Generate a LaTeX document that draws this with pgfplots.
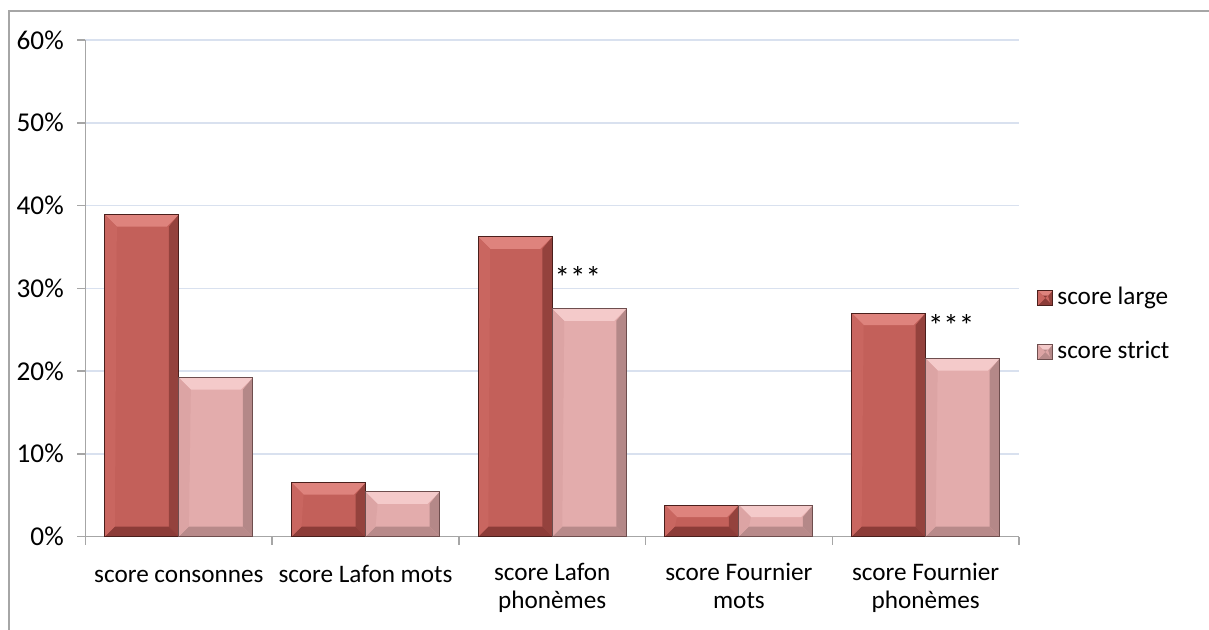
\documentclass[border=0pt]{standalone}
\usepackage{fontspec}
\setmainfont{Carlito}
\usepackage{pgfplots}
\pgfplotsset{compat=1.18}
\definecolor{large}{HTML}{C3605A}
\definecolor{largeedge}{HTML}{4A1F1C}
\definecolor{largetop}{HTML}{DE837D}
\definecolor{largeright}{HTML}{94423D}
\definecolor{largebottom}{HTML}{8C3C38}
\definecolor{largeleft}{HTML}{C96660}
\definecolor{strictc}{HTML}{E3ACAC}
\definecolor{strictedge}{HTML}{6E4E4E}
\definecolor{stricttop}{HTML}{F4CACA}
\definecolor{strictright}{HTML}{B48888}
\definecolor{strictbottom}{HTML}{B88A8A}
\definecolor{strictleft}{HTML}{DCA4A4}
\definecolor{gridc}{HTML}{D9E1EF}
\definecolor{axc}{HTML}{A6A6A6}
\tikzset{bevel/.style n args={4}{path picture={
  \fill[#1, path picture={}, draw=none] (path picture bounding box.north west) -- (path picture bounding box.north east) -- ([shift={(-6pt,-6pt)}]path picture bounding box.north east) -- ([shift={(6pt,-6pt)}]path picture bounding box.north west) -- cycle;
  \fill[#2, path picture={}, draw=none] (path picture bounding box.north east) -- (path picture bounding box.south east) -- ([shift={(-5pt,5pt)}]path picture bounding box.south east) -- ([shift={(-5pt,-6pt)}]path picture bounding box.north east) -- cycle;
  \fill[#3, path picture={}, draw=none] (path picture bounding box.south east) -- (path picture bounding box.south west) -- ([shift={(5pt,5pt)}]path picture bounding box.south west) -- ([shift={(-5pt,5pt)}]path picture bounding box.south east) -- cycle;
  \fill[#4, path picture={}, draw=none] (path picture bounding box.south west) -- (path picture bounding box.north west) -- ([shift={(6pt,-6pt)}]path picture bounding box.north west) -- ([shift={(5pt,5pt)}]path picture bounding box.south west) -- cycle;
}}}
\pgfplotsset{
  largebar/.style={ybar, bar width=37pt, bar shift=-18.5pt, fill=large, draw=largeedge, line width=0.5pt,
    bevel={largetop}{largeright}{largebottom}{largeleft},
    legend image code/.code={\draw[fill=large, draw=largeedge, line width=0.5pt] (0pt,-3.75pt) rectangle (7.5pt,3.75pt);}},
  strictbar/.style={ybar, bar width=37pt, bar shift=18.5pt, fill=strictc, draw=strictedge, line width=0.5pt,
    bevel={stricttop}{strictright}{strictbottom}{strictleft},
    legend image code/.code={\draw[fill=strictc, draw=strictedge, line width=0.5pt] (0pt,-3.75pt) rectangle (7.5pt,3.75pt);}},
}
\begin{document}
\fontsize{12.6}{14}\selectfont
\begin{tikzpicture}
\useasboundingbox (-42.75pt,-46.25pt) rectangle (561.75pt,268.25pt);
\draw[axc, line width=1pt] (-38.25pt,-50pt) -- (-38.25pt,263pt) -- (565pt,263pt);
\begin{axis}[
  at={(0,0)}, anchor=south west,
  width=466.75pt, height=248.25pt, scale only axis,
  xmin=-0.5, xmax=4.5, ymin=0, ymax=60,
  axis x line*=bottom, axis y line*=left,
  axis line style={axc, line width=0.75pt},
  xtick={-0.5,0.5,...,4.5}, x tick label as interval,
  xticklabels={score consonnes, score Lafon mots, {score Lafon\\phonèmes}, {score Fournier\\mots}, {score Fournier\\phonèmes}},
  xticklabel style={align=center, yshift=-5pt, execute at begin node={\strut}},
  ytick={0,10,...,60},
  yticklabel={\pgfmathprintnumber{\tick}\%},
  yticklabel style={font=\fontsize{13.6}{14}\selectfont, xshift=-2.5pt},
  /pgf/number format/assume math mode=true,
  ymajorgrids, grid style={gridc, line width=0.75pt},
  tick align=outside, major tick length=4pt, tick style={axc, line width=0.75pt},
  legend style={at={(1.0193,0.426)}, anchor=west, draw=none, fill=none,
    inner sep=0pt, row sep=11pt,
    nodes={inner sep=2pt, text height=9pt, text depth=3pt},
    /tikz/every even column/.style={column sep=1pt}},
  legend cell align=left,
]
% score large
\addplot[largebar] coordinates {(0,38.9)};
\addlegendentry{score large}
\addplot[largebar, forget plot] coordinates {(1,6.5)};
\addplot[largebar, forget plot] coordinates {(2,36.2)};
\addplot[largebar, forget plot] coordinates {(3,3.8)};
\addplot[largebar, forget plot] coordinates {(4,27.0)};
% score strict
\addplot[strictbar] coordinates {(0,19.2)};
\addlegendentry{score strict}
\addplot[strictbar, forget plot] coordinates {(1,5.4)};
\addplot[strictbar, forget plot] coordinates {(2,27.5)};
\addplot[strictbar, forget plot] coordinates {(3,3.8)};
\addplot[strictbar, forget plot] coordinates {(4,21.5)};
\node[anchor=base west, inner sep=1pt, font=\fontsize{15.5}{16}\selectfont] at (axis cs:2,30.0) {***};
\node[anchor=base west, inner sep=1pt, font=\fontsize{15.5}{16}\selectfont] at (axis cs:4,24.2) {***};
\end{axis}
\end{tikzpicture}
\end{document}
